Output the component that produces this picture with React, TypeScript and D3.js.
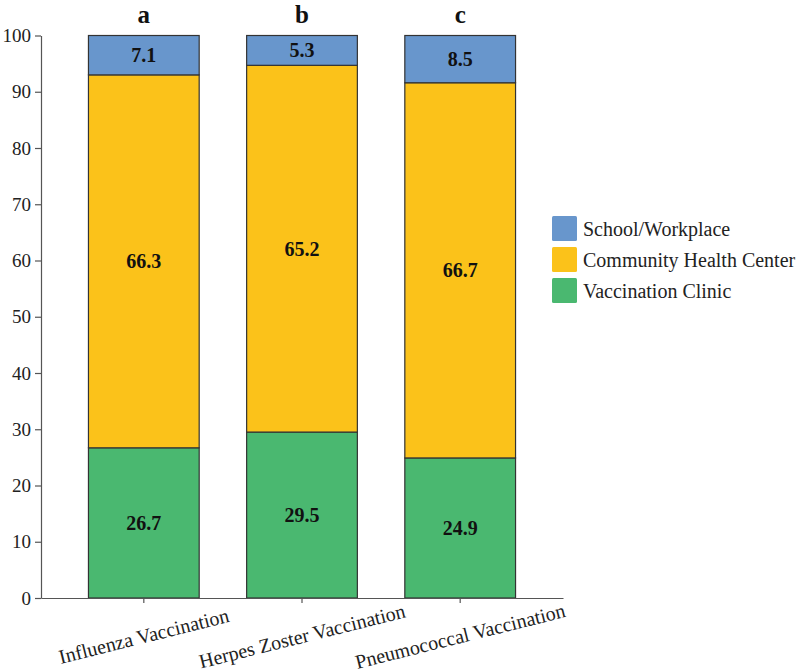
import React, { useEffect, useRef } from "react";
import * as d3 from "d3";

const categories = ["Influenza Vaccination", "Herpes Zoster Vaccination", "Pneumococcal Vaccination"];
const panelLetters = ["a", "b", "c"];
const seriesNames = ["Vaccination Clinic", "Community Health Center", "School/Workplace"];
const vaccinationClinic = [26.7, 29.5, 24.9];
const communityHealthCenter = [66.3, 65.2, 66.7];
const schoolWorkplace = [7.1, 5.3, 8.5];
const yTicks = [0, 10, 20, 30, 40, 50, 60, 70, 80, 90, 100];
const colors = ["#4AB870", "#FBC21A", "#6896CC"];
const legendOrder = ["School/Workplace", "Community Health Center", "Vaccination Clinic"];

const FONT = "Liberation Serif";

export default function App() {
  const yAxisRef = useRef<SVGGElement>(null);
  const xAxisRef = useRef<SVGGElement>(null);

  const rows = categories.map((c, i) => ({
    cat: c,
    "Vaccination Clinic": vaccinationClinic[i],
    "Community Health Center": communityHealthCenter[i],
    "School/Workplace": schoolWorkplace[i],
  }));
  const stacked = d3.stack<any>().keys(seriesNames)(rows);

  const x = d3.scaleBand<string>().domain(categories).range([41, 563]).paddingInner(0.3).paddingOuter(0.3);
  const y = d3.scaleLinear().domain([0, 100]).range([598, 35.5]).clamp(true);
  const color = d3.scaleOrdinal<string, string>().domain(seriesNames).range(colors);

  useEffect(() => {
    if (yAxisRef.current) {
      const g = d3.select(yAxisRef.current);
      g.call(d3.axisLeft(y).tickValues(yTicks).tickSize(6).tickSizeOuter(0).tickPadding(4));
      g.selectAll("path,line").attr("stroke", "#555").attr("stroke-width", 1.2);
      g.selectAll("text").attr("font-family", FONT).attr("font-size", 19).attr("fill", "#222");
    }
    if (xAxisRef.current) {
      const g = d3.select(xAxisRef.current);
      g.call(d3.axisBottom(x).tickSize(5).tickSizeOuter(0).tickFormat(() => ""));
      g.selectAll("path,line").attr("stroke", "#555").attr("stroke-width", 1.2);
    }
  }, []);

  const bw = x.bandwidth();

  return (
    <svg width={800} height={672} style={{ position: "absolute", left: 0, top: 0, background: "#fff", fontFamily: FONT }}>
      {stacked.map((layer) => (
        <g key={layer.key}>
          {layer.map((d, i) => {
            const y0 = y(d[0]);
            const y1 = y(d[1]);
            const cx = (x(categories[i]) as number) + bw / 2;
            return (
              <g key={i}>
                <rect
                  x={x(categories[i])}
                  y={y1}
                  width={bw}
                  height={y0 - y1}
                  fill={color(layer.key)}
                  stroke="#333"
                  strokeWidth={1.2}
                />
                <text
                  x={cx}
                  y={(y0 + y1) / 2}
                  textAnchor="middle"
                  dominantBaseline="central"
                  fontFamily={FONT}
                  fontWeight="bold"
                  fontSize={20}
                  fill="#111"
                >
                  {(d[1] - d[0]).toFixed(1)}
                </text>
              </g>
            );
          })}
        </g>
      ))}
      <g ref={yAxisRef} transform="translate(41,0)" />
      <g ref={xAxisRef} transform="translate(0,598)" />
      {categories.map((c, i) => {
        const cx = (x(c) as number) + bw / 2;
        return (
          <g key={c}>
            <text
              x={cx}
              y={23}
              textAnchor="middle"
              fontFamily={FONT}
              fontWeight="bold"
              fontSize={25}
              fill="#111"
            >
              {panelLetters[i]}
            </text>
            <text
              transform={`translate(${cx},636) rotate(-14)`}
              textAnchor="middle"
              dominantBaseline="central"
              fontFamily={FONT}
              fontSize={20}
              fill="#222"
            >
              {c}
            </text>
          </g>
        );
      })}
      {legendOrder.map((name, i) => (
        <g key={name} transform={`translate(552,${216 + i * 31})`}>
          <rect width={25} height={25} rx={1.5} fill={color(name)} />
          <text
            x={31}
            y={12.5}
            dominantBaseline="central"
            fontFamily={FONT}
            fontSize={20}
            fill="#222"
          >
            {name}
          </text>
        </g>
      ))}
    </svg>
  );
}
